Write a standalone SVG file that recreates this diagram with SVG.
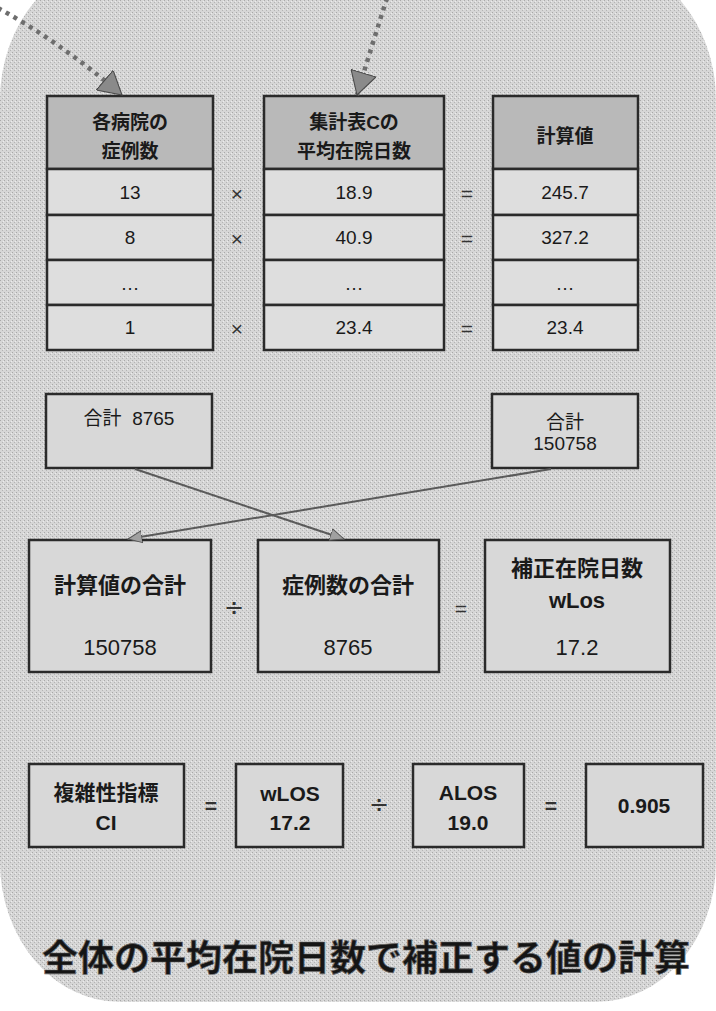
<svg xmlns="http://www.w3.org/2000/svg" width="716" height="1011" viewBox="0 0 716 1011">
<defs>
<pattern id="dither" width="4" height="4" patternUnits="userSpaceOnUse">
<rect width="4" height="4" fill="#d6d6d6"/>
<rect x="0" y="0" width="1" height="1" fill="#a8a8a8"/>
<rect x="2" y="2" width="1" height="1" fill="#b4b4b4"/>
<rect x="3" y="1" width="1" height="1" fill="#ececec"/>
</pattern>
<marker id="bigHead" markerUnits="userSpaceOnUse" markerWidth="26" markerHeight="26" refX="21" refY="12" orient="auto" viewBox="0 0 23 24">
<path d="M0,0 L21,12 L0,24 Z" fill="#8a8a8a" stroke="#4a4a4a" stroke-width="1"/>
</marker>
<marker id="smallHead" markerUnits="userSpaceOnUse" markerWidth="16" markerHeight="14" refX="14" refY="6" orient="auto" viewBox="0 0 16 12">
<path d="M0,0 L14,6 L0,12 Z" fill="#a0a0a0" stroke="#555" stroke-width="1"/>
</marker>
</defs>
<style>
.hdr{fill:#b9b9b9;stroke:#2a2a2a;stroke-width:2.5}
.cell{fill:#dedede;stroke:#2a2a2a;stroke-width:2.5}
.plain{fill:#d8d8d8;stroke:#2a2a2a;stroke-width:2.5}
text{font-family:"Liberation Sans","Noto Sans CJK JP",sans-serif;fill:#1a1a1a;text-anchor:middle;dominant-baseline:central}
.h{font-size:19px;font-weight:bold}
.v{font-size:19px}
.op{font-size:21px;fill:#333}
.div{font-family:"DejaVu Sans",sans-serif;font-size:24px}
.m{font-size:22px;font-weight:bold}
.mv{font-size:22px}
.b{font-size:21px;font-weight:bold}
.title{font-size:36px;font-weight:bold;fill:#151515;stroke:#666;stroke-width:0.7}
.dot{fill:none;stroke:#6e6e6e;stroke-width:4.5;stroke-dasharray:4 5}
.thin{fill:none;stroke:#5a5a5a;stroke-width:2}
</style>
<rect x="0" y="0" width="716" height="1011" fill="#ffffff"/>
<rect x="0" y="-40" width="716" height="1042" rx="120" ry="140" fill="url(#dither)"/>

<g id="col1">
<rect class="hdr" x="47" y="96" width="166" height="73"/>
<text class="h" x="130" y="122">各病院の</text>
<text class="h" x="130" y="151">症例数</text>
<rect class="cell" x="47" y="169" width="166" height="46"/>
<text class="v" x="130" y="192">13</text>
<rect class="cell" x="47" y="215" width="166" height="45"/>
<text class="v" x="130" y="237">8</text>
<rect class="cell" x="47" y="260" width="166" height="45"/>
<text class="v" x="130" y="283" fill="#555">…</text>
<rect class="cell" x="47" y="305" width="166" height="45"/>
<text class="v" x="130" y="327">1</text>
</g>
<g id="col2">
<rect class="hdr" x="264" y="96" width="180" height="73"/>
<text class="h" x="354" y="122">集計表Cの</text>
<text class="h" x="354" y="151">平均在院日数</text>
<rect class="cell" x="264" y="169" width="180" height="46"/>
<text class="v" x="354" y="192">18.9</text>
<rect class="cell" x="264" y="215" width="180" height="45"/>
<text class="v" x="354" y="237">40.9</text>
<rect class="cell" x="264" y="260" width="180" height="45"/>
<text class="v" x="354" y="283" fill="#555">…</text>
<rect class="cell" x="264" y="305" width="180" height="45"/>
<text class="v" x="354" y="327">23.4</text>
</g>
<g id="col3">
<rect class="hdr" x="493" y="96" width="145" height="73"/>
<text class="h" x="565" y="136">計算値</text>
<rect class="cell" x="493" y="169" width="145" height="46"/>
<text class="v" x="565" y="192">245.7</text>
<rect class="cell" x="493" y="215" width="145" height="45"/>
<text class="v" x="565" y="237">327.2</text>
<rect class="cell" x="493" y="260" width="145" height="45"/>
<text class="v" x="565" y="283" fill="#555">…</text>
<rect class="cell" x="493" y="305" width="145" height="45"/>
<text class="v" x="565" y="327">23.4</text>
</g>
<g id="ops-top">
<text class="op" x="237" y="193">×</text>
<text class="op" x="237" y="238">×</text>
<text class="op" x="237" y="328">×</text>
<text class="op" x="467" y="193" fill="#666">=</text>
<text class="op" x="467" y="238" fill="#666">=</text>
<text class="op" x="467" y="328" fill="#666">=</text>
</g>

<g id="sum-left">
<rect class="plain" x="46" y="394" width="166" height="74"/>
<text class="v" x="129" y="418" xml:space="preserve">合計  8765</text>
</g>
<g id="sum-right">
<rect class="plain" x="492" y="394" width="146" height="74"/>
<text class="v" x="565" y="422">合計</text>
<text class="v" x="565" y="443">150758</text>
</g>

<g id="box-calc-sum">
<rect class="plain" x="29" y="540" width="182" height="132"/>
<text class="m" x="120" y="585">計算値の合計</text>
<text class="mv" x="120" y="647">150758</text>
</g>
<g id="box-case-sum">
<rect class="plain" x="258" y="540" width="181" height="132"/>
<text class="m" x="348" y="585">症例数の合計</text>
<text class="mv" x="348" y="647">8765</text>
</g>
<g id="box-wlos">
<rect class="plain" x="485" y="540" width="185" height="132"/>
<text class="m" x="577" y="568">補正在院日数</text>
<text class="m" x="577" y="600">wLos</text>
<text class="mv" x="577" y="647">17.2</text>
</g>
<g id="ops-mid">
<text class="op div" x="234" y="608" fill="#555">÷</text>
<text class="op" x="461" y="608" font-size="26" fill="#555">=</text>
</g>

<g id="box-ci">
<rect class="plain" x="29" y="764" width="155" height="83"/>
<text class="b" x="106" y="792">複雑性指標</text>
<text class="b" x="106" y="822">CI</text>
</g>
<g id="box-wlos2">
<rect class="plain" x="236" y="764" width="107" height="83"/>
<text class="b" x="290" y="793">wLOS</text>
<text class="b" x="290" y="822">17.2</text>
</g>
<g id="box-alos">
<rect class="plain" x="413" y="764" width="111" height="83"/>
<text class="b" x="468" y="792">ALOS</text>
<text class="b" x="468" y="822">19.0</text>
</g>
<g id="box-result">
<rect class="plain" x="586" y="764" width="117" height="83"/>
<text class="b" x="644" y="805">0.905</text>
</g>
<g id="ops-bottom">
<text class="op" x="211" y="805" font-weight="bold">=</text>
<text class="op div" x="379" y="805">÷</text>
<text class="op" x="551" y="805" font-weight="bold" font-size="26">=</text>
</g>

<g id="connectors">
<path class="dot" d="M-2,8 Q60,42 122,95" marker-end="url(#bigHead)"/>
<path class="dot" d="M387,-2 Q372,45 357,95" marker-end="url(#bigHead)"/>
<path class="thin" d="M135,469 L344,539" marker-end="url(#smallHead)"/>
<path class="thin" d="M551,469 L128,539" marker-end="url(#smallHead)"/>
</g>

<g id="title">
<text class="title" x="366" y="958">全体の平均在院日数で補正する値の計算</text>
</g>
</svg>
